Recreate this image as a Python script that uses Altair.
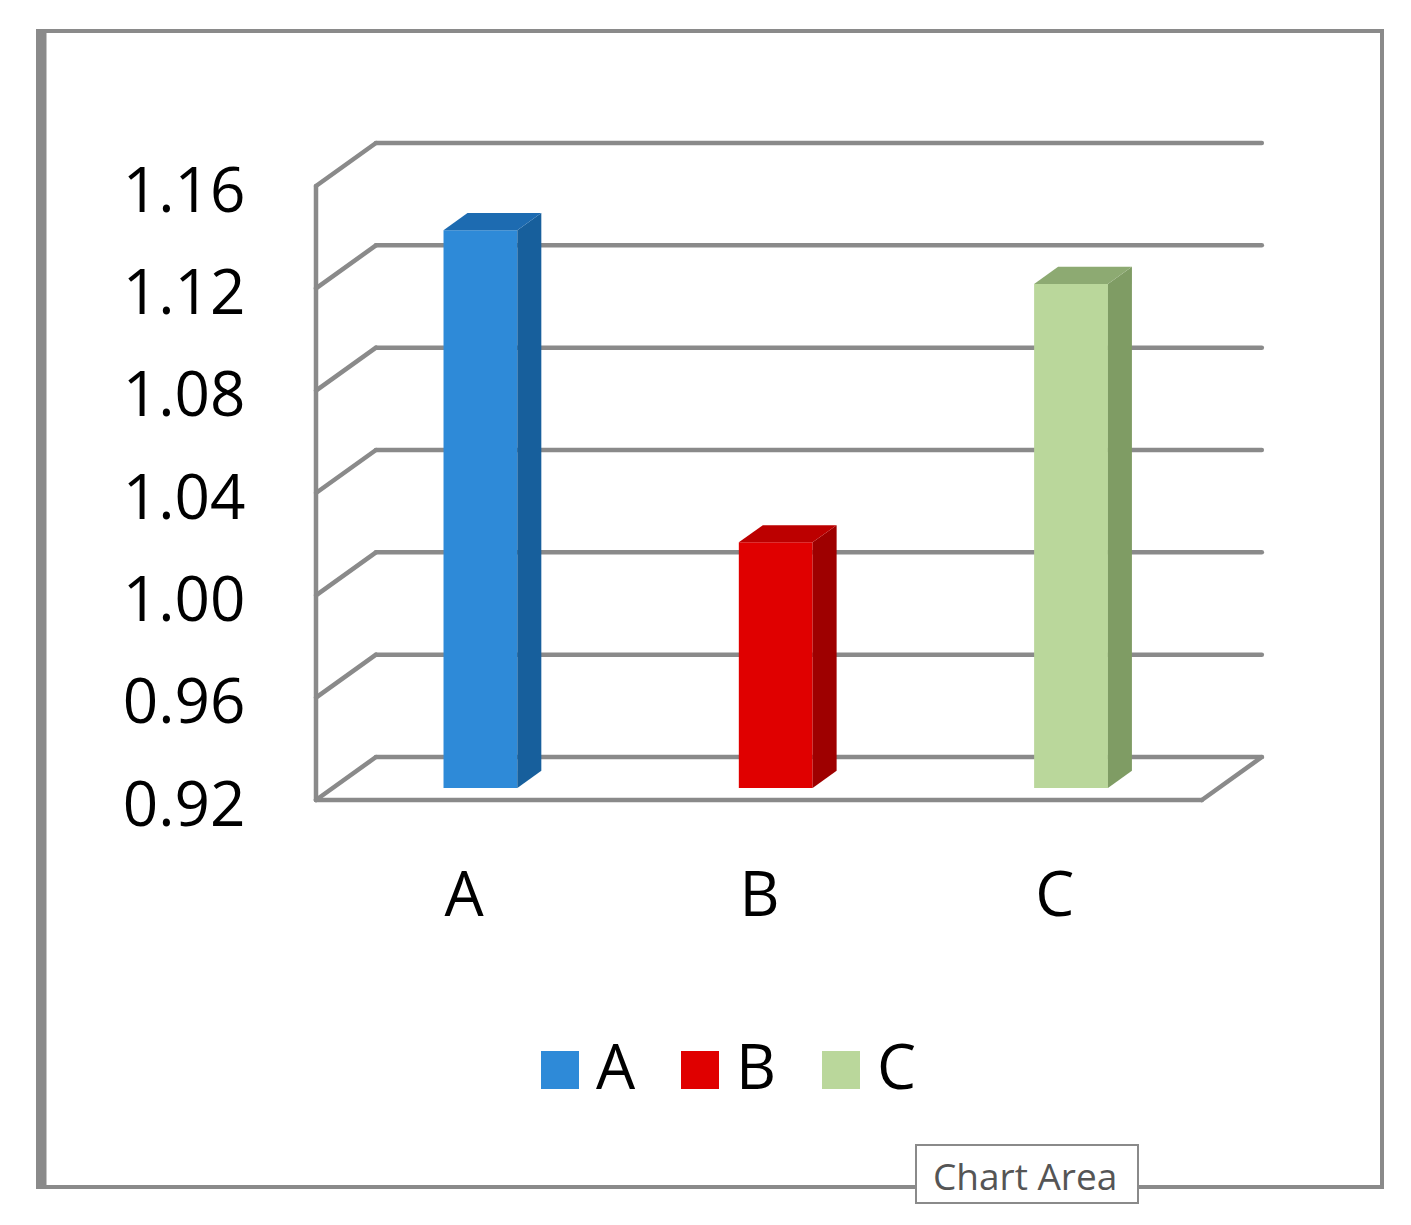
import altair as alt
import pandas as pd

# ---- data ----
categories = ["A", "B", "C"]
values = [1.138, 1.016, 1.117]
tick_values = [0.92, 0.96, 1.00, 1.04, 1.08, 1.12, 1.16]

# ---- styles ----
front_colors = ["#2E8AD8", "#E00000", "#BAD79B"]
side_colors = ["#175F9C", "#9E0000", "#7F9C64"]
top_colors = ["#1D6BB1", "#BC0000", "#8DAA72"]
GRID = "#8A8A8A"
FONT = "Open Sans"

# ---- 3-D geometry (in data units) ----
BASE = tick_values[0]
TOP = tick_values[-1]
DX = 0.203      # depth shift along x (category units)
DYV = 0.0168    # depth shift along y (value units)
W = 0.25        # bar width (category units)
FD, BD = 0.28, 0.68  # front / back depth fraction of bars
N = len(categories)

PW, PH = 1344, 1156
xscale = alt.Scale(domain=[-0.9414, 3.6099], nice=False, zero=False)
yscale = alt.Scale(domain=[0.76873, 1.22059], nice=False, zero=False)

label_expr = " : ".join(
    [f"datum.value < {i + 1} ? '{c}'" for i, c in enumerate(categories[:-1])]
) + f" : '{categories[-1]}'"

x_axis = alt.Axis(values=[i + 0.5 for i in range(N)], labelExpr=label_expr,
                  domain=False, ticks=False, grid=False, labelPadding=0,
                  labelBaseline="middle", labelFontSize=62, labelFont=FONT,
                  labelColor="#000000", offset=-291, labelFlush=False,
                  labelOverlap=False, title=None)
y_axis = alt.Axis(values=tick_values, format=".2f", domain=False, ticks=False,
                  grid=False, labelPadding=0, labelFontSize=62, labelFont=FONT,
                  labelColor="#000000", labelBaseline="middle", labelOffset=6,
                  offset=-207, labelFlush=False, labelOverlap=False, title=None)

# ---- wall / floor lines ----
seg = []
for t in tick_values:
    seg.append(dict(x=DX, y=t + DYV, x2=N + DX, y2=t + DYV))   # back wall gridline
    seg.append(dict(x=0, y=t, x2=DX, y2=t + DYV))              # side wall diagonal
seg.append(dict(x=0, y=BASE, x2=0, y2=TOP))                    # front vertical axis
seg.append(dict(x=0, y=BASE, x2=N, y2=BASE))                   # floor front edge
seg.append(dict(x=N, y=BASE, x2=N + DX, y2=BASE + DYV))        # floor right edge
seg_df = pd.DataFrame(seg)

rules = alt.Chart(seg_df).mark_rule(color=GRID, strokeWidth=4.5, strokeCap="round").encode(
    x=alt.X("x:Q", scale=xscale, axis=x_axis),
    x2="x2:Q",
    y=alt.Y("y:Q", scale=yscale, axis=y_axis),
    y2="y2:Q",
)

# ---- bars ----
front_rows, top_rows, side_rows = [], [], []
for i, (c, v) in enumerate(zip(categories, values)):
    cx = i + 0.5
    front_rows.append(dict(cat=c, x=cx - W / 2 + FD * DX, x2=cx + W / 2 + FD * DX,
                           y=BASE + FD * DYV, y2=v + FD * DYV))
    for d in (FD, BD):
        top_rows.append(dict(cat=c, y=v + d * DYV, xl=cx - W / 2 + d * DX,
                             xr=cx + W / 2 + d * DX))
        side_rows.append(dict(cat=c, x=cx + W / 2 + d * DX, ylo=BASE + d * DYV,
                              yhi=v + d * DYV))

front = alt.Chart(pd.DataFrame(front_rows)).mark_rect().encode(
    x=alt.X("x:Q", scale=xscale, axis=x_axis),
    x2="x2:Q",
    y=alt.Y("y:Q", scale=yscale, axis=y_axis),
    y2="y2:Q",
    color=alt.Color("cat:N", scale=alt.Scale(domain=categories, range=front_colors),
                    legend=alt.Legend(orient="none", legendX=491, legendY=1008,
                                      direction="horizontal", title=None,
                                      symbolType="square", symbolSize=1444,
                                      symbolStrokeWidth=0, labelFontSize=62,
                                      labelFont=FONT, labelColor="#000000",
                                      labelOffset=5, columnPadding=33,
                                      padding=0)),
)

top = alt.Chart(pd.DataFrame(top_rows)).mark_area(orient="horizontal").encode(
    y=alt.Y("y:Q", scale=yscale, axis=y_axis),
    x=alt.X("xl:Q", scale=xscale, axis=x_axis, stack=None),
    x2="xr:Q",
    color=alt.Color("cat:N", scale=alt.Scale(domain=categories, range=top_colors),
                    legend=None),
)

side = alt.Chart(pd.DataFrame(side_rows)).mark_area(orient="vertical").encode(
    x=alt.X("x:Q", scale=xscale, axis=x_axis),
    y=alt.Y("ylo:Q", scale=yscale, axis=y_axis, stack=None),
    y2="yhi:Q",
    color=alt.Color("cat:N", scale=alt.Scale(domain=categories, range=side_colors),
                    legend=None),
)

# ---- frame decoration and "Chart Area" tooltip ----
one = pd.DataFrame({"label": ["Chart Area"]})
left_edge = alt.Chart(one).mark_rule(color="#8A8A8A", strokeWidth=10).encode(
    x=alt.value(3.5), y=alt.value(0), y2=alt.value(PH))
tip_box = alt.Chart(one).mark_rect(fill="white", stroke="#8A8A8A", strokeWidth=2).encode(
    x=alt.value(878), x2=alt.value(1100), y=alt.value(1114), y2=alt.value(1172))
tip_text = alt.Chart(one).mark_text(align="left", baseline="middle", fontSize=37,
                                    font=FONT, color="#555555").encode(
    x=alt.value(895), y=alt.value(1148), text="label:N")

chart = alt.layer(rules, front, side, top, left_edge, tip_box, tip_text).resolve_scale(
    color="independent"
).properties(
    width=PW, height=PH,
    autosize=alt.AutoSizeParams(type="none"),
    padding={"left": 30, "top": 23, "right": 12, "bottom": 30},
    background="white",
).configure_view(stroke="#8A8A8A", strokeWidth=4)

chart.save("out.html", embed_options={"renderer": "svg", "actions": False})
